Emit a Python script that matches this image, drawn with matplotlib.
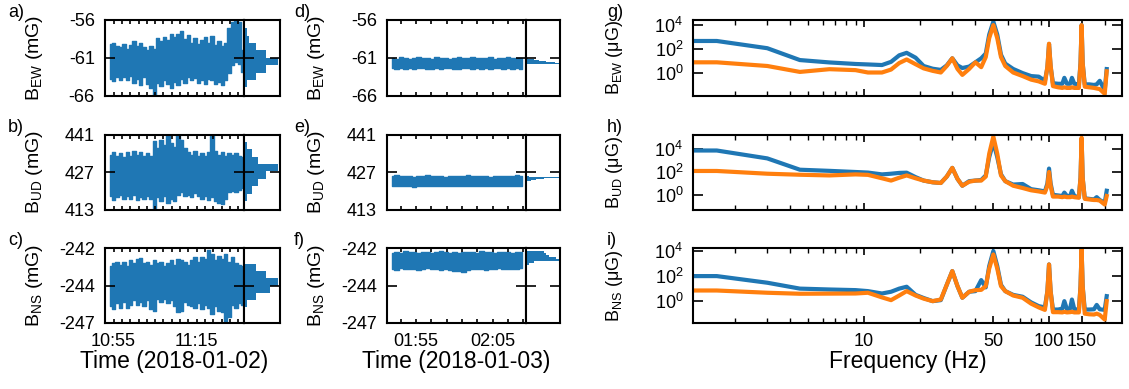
import numpy as np
import matplotlib
matplotlib.use("Agg")
import matplotlib.pyplot as plt
from matplotlib.ticker import FixedLocator, NullLocator, FixedFormatter, NullFormatter

plt.rcParams["font.family"] = ["Liberation Sans", "DejaVu Sans"]
plt.rcParams["mathtext.fontset"] = "custom"
plt.rcParams["mathtext.rm"] = "Liberation Sans"
plt.rcParams["mathtext.it"] = "Liberation Sans:italic"
plt.rcParams["mathtext.bf"] = "Liberation Sans:bold"
plt.rcParams["mathtext.sf"] = "Liberation Sans"
plt.rcParams["axes.linewidth"] = 1.5
plt.rcParams["axes.unicode_minus"] = False

BLUE = "#1f77b4"
ORANGE = "#ff7f0e"

# ---------------------------------------------------------------------------
# Time series, stored as per-interval maxima / minima (mG)
# ---------------------------------------------------------------------------
# 2018-01-02, minutes after midnight
day1_span = (654.2, 686.05)
ew1_hi = [-59.2, -59.0, -59.4, -59.6, -59.2, -59.8, -59.3, -58.8, -59.5, -59.0,
          -59.6, -60.0, -59.5, -59.8, -58.4, -58.8, -58.2, -58.6, -57.9, -58.3,
          -57.8, -57.5, -58.5, -58.0, -59.0, -58.4, -59.2, -58.6, -58.2, -59.0,
          -58.1, -59.3, -58.8, -59.5, -59.0, -57.0, -56.2, -56.1, -56.3, -60.0]
ew1_lo = [-63.8, -64.1, -63.5, -64.0, -63.6, -64.0, -63.4, -64.4, -63.8, -64.6,
          -63.6, -64.5, -65.0, -65.9, -64.3, -64.8, -64.0, -64.5, -65.0, -64.2,
          -64.6, -63.8, -64.3, -63.6, -64.0, -63.7, -64.3, -64.0, -64.5, -63.8,
          -64.0, -64.5, -64.2, -64.6, -64.0, -63.0, -62.0, -61.5, -61.8, -62.9]
ud1_hi = [433.5, 434.5, 433.0, 434.0, 432.5, 434.3, 433.0, 435.0, 433.5, 434.5,
          433.0, 434.0, 433.0, 438.5, 436.0, 439.0, 437.0, 440.5, 438.0, 436.5,
          441.0, 439.0, 436.0, 434.5, 433.5, 435.0, 433.0, 434.0, 432.8, 434.5,
          440.4, 435.0, 433.5, 434.5, 433.0, 434.0, 433.5, 434.0, 433.0, 432.5]
ud1_lo = [418.0, 416.5, 417.5, 418.5, 416.8, 418.0, 417.0, 418.5, 416.5, 417.5,
          416.8, 418.0, 417.0, 413.4, 417.5, 416.0, 418.0, 415.5, 417.0, 416.3,
          418.5, 419.5, 418.0, 418.5, 417.5, 419.0, 418.0, 417.0, 418.0, 416.5,
          417.5, 416.0, 415.5, 415.0, 417.0, 419.5, 420.0, 419.5, 420.3, 421.0]
ns1_hi = [-243.2, -243.0, -242.9, -243.1, -242.9, -243.2, -242.8, -243.0, -242.7, -242.65,
          -243.0, -242.9, -243.1, -242.8, -243.0, -242.9, -243.2, -243.0, -242.8, -243.1,
          -242.7, -242.8, -242.9, -243.1, -242.8, -242.6, -242.9, -242.6, -242.7, -242.1,
          -242.4, -242.8, -242.5, -242.7, -242.4, -242.9, -242.6, -243.0, -243.1, -243.2]
ns1_lo = [-245.9, -246.1, -245.7, -246.0, -245.6, -246.0, -245.8, -245.5, -245.8, -245.6,
          -245.9, -245.5, -246.1, -246.2, -245.4, -245.6, -245.4, -245.7, -245.5, -245.9,
          -246.3, -246.2, -245.6, -245.8, -245.9, -246.0, -245.7, -246.1, -245.8, -246.0,
          -246.4, -245.9, -246.2, -246.3, -246.9, -246.6, -245.8, -246.0, -245.7, -245.8]

# 2018-01-03, minutes after midnight
day2_span = (111.85, 128.78)
ew2_hi = [-61.0, -61.1, -60.95, -61.05, -61.1, -61.0, -60.9, -61.05, -61.0, -61.1,
          -60.95, -61.0, -61.05, -61.1, -61.0, -60.95, -61.0, -61.05, -60.9, -61.0,
          -61.05, -61.0, -60.95, -61.1, -61.0, -61.05, -60.95, -61.0, -61.05, -61.0]
ew2_lo = [-62.4, -62.5, -62.35, -62.45, -62.4, -62.5, -62.4, -62.35, -62.45, -62.5,
          -62.4, -62.45, -62.35, -62.4, -62.5, -62.45, -62.4, -62.35, -62.45, -62.4,
          -62.5, -62.4, -62.45, -62.35, -62.4, -62.45, -62.4, -62.5, -62.4, -62.45]
ud2_hi = [425.5, 425.7, 425.4, 425.6, 425.5, 425.3, 425.6, 425.5, 425.7, 425.4,
          425.5, 425.6, 425.3, 425.5, 425.6, 425.4, 425.5, 425.7, 425.5, 425.4,
          425.6, 425.5, 425.3, 425.6, 425.5, 425.4, 425.6, 425.5, 425.7, 425.5]
ud2_lo = [421.8, 421.6, 421.9, 421.7, 421.8, 421.5, 421.8, 421.9, 421.7, 421.6,
          421.8, 421.7, 421.9, 421.6, 421.8, 421.7, 421.9, 421.8, 421.6, 421.8,
          421.7, 421.9, 421.8, 421.6, 421.8, 421.7, 421.8, 421.9, 421.7, 421.8]
ns2_hi = [-242.3, -242.25, -242.3, -242.2, -242.28, -242.25, -242.3, -242.22, -242.27, -242.3,
          -242.25, -242.2, -242.28, -242.3, -242.25, -242.3, -242.22, -242.28, -242.25, -242.3,
          -242.2, -242.27, -242.25, -242.3, -242.22, -242.28, -242.25, -242.3, -242.25, -242.28]
ns2_lo = [-243.4, -243.45, -243.35, -243.42, -243.4, -243.38, -243.45, -243.4, -243.35, -243.42,
          -243.4, -243.45, -243.4, -243.48, -243.55, -243.5, -243.56, -243.45, -243.4, -243.42,
          -243.38, -243.45, -243.4, -243.42, -243.35, -243.4, -243.42, -243.38, -243.4, -243.35]

# ---------------------------------------------------------------------------
# Histograms of the field values (bin edges in mG, relative counts)
# ---------------------------------------------------------------------------
ew1_edges = [-65.9, -64.92, -63.94, -62.96, -61.98, -61.0, -60.02, -59.04, -58.06, -57.08, -56.1]
ew1_counts = [3, 8, 33, 63, 98, 63, 33, 13, 8, 3]
ud1_edges = [413.4, 416.16, 418.92, 421.68, 424.44, 427.2, 429.96, 432.72, 435.48, 438.24, 441.0]
ud1_counts = [1, 8, 23, 40, 63, 96, 41, 23, 8, 1]
ns1_edges = [-246.9, -246.42, -245.94, -245.46, -244.98, -244.5, -244.02, -243.54, -243.06, -242.58, -242.1]
ns1_counts = [0.5, 1, 8, 33, 75, 98, 63, 33, 3, 0.5]

ew2_edges = [-61.78, -61.67, -61.56, -61.45, -61.34, -61.23, -61.12, -61.01, -60.9]
ew2_counts = [100, 85, 60, 40, 25, 15, 8, 3]
ud2_edges = [423.2, 423.5, 423.8, 424.1, 424.4, 424.7, 425.0, 425.3, 425.6]
ud2_counts = [3, 8, 15, 30, 55, 100, 40, 10]
ns2_edges = [-243.26, -243.13, -242.99, -242.86, -242.73, -242.6, -242.47, -242.33, -242.2]
ns2_counts = [4, 10, 25, 100, 90, 68, 60, 55]

# ---------------------------------------------------------------------------
# Amplitude spectra, log10 of amplitude in uG (blue: 2018-01-02, orange: 2018-01-03)
# ---------------------------------------------------------------------------
freq = [1.19, 1.6, 3.0, 4.5, 6.5, 9.0, 10.5, 12.5, 14.0, 15.5,
        17.0, 19.0, 21.0, 23.5, 26.0, 28.0, 30.0, 32.0, 34.0, 37.0,
        40.0, 43.0, 45.5, 47.5, 50.0, 52.5, 55.0, 58.0, 64.0, 72.0,
        80.0, 88.0, 95.0, 98.0, 100.0, 102.0, 105.0, 112.0, 118.0, 121.0,
        125.0, 130.0, 133.0, 137.0, 145.0, 148.0, 150.0, 152.0, 156.0, 165.0,
        175.0, 181.0, 188.0, 200.0, 205.0]
ew_blue = [2.66, 2.66, 2.05, 1.05, 0.85, 0.72, 0.68, 0.63, 0.9, 1.45,
           1.66, 1.25, 0.55, 0.32, 0.22, 0.6, 1.2, 0.6, 0.38, 0.5,
           0.86, 1.2, 1.6, 3.2, 4.29, 3.2, 1.5, 0.75, 0.3, -0.05,
           -0.3, -0.35, -0.7, 0.4, 2.4, 0.5, -0.9, -0.95, -0.95, -0.45,
           -0.95, -0.95, -0.45, -0.95, -1.0, 0.8, 4.0, 0.8, -1.0, -1.0,
           -1.05, -1.0, -0.7, -1.5, 0.29]
ew_orange = [0.86, 0.86, 0.55, 0.05, 0.28, 0.2, 0.0, 0.0, 0.25, 0.8,
             1.1, 0.7, 0.35, 0.14, 0.0, 0.55, 1.2, 0.3, -0.2, 0.3,
             0.86, 0.45, 1.3, 2.9, 4.0, 2.9, 1.3, 0.55, 0.0, -0.3,
             -0.6, -0.75, -0.95, 0.5, 2.43, 0.6, -1.15, -1.25, -1.3, -1.25,
             -1.3, -1.3, -1.25, -1.3, -1.3, 0.8, 4.0, 0.8, -1.2, -1.25,
             -1.3, -1.35, -1.4, -1.8, 0.1]
ud_blue = [3.88, 3.88, 3.19, 2.2, 2.1, 2.0, 1.95, 1.79, 1.85, 1.92,
           1.94, 1.55, 1.25, 1.1, 1.04, 1.6, 2.36, 1.4, 0.8, 1.2,
           1.25, 1.3, 1.7, 3.3, 4.6, 3.3, 1.8, 1.2, 0.9, 0.95,
           0.5, 0.4, 0.3, 1.0, 2.3, 1.0, 0.0, -0.05, -0.1, 0.2,
           -0.1, -0.1, 0.36, -0.1, -0.2, 1.5, 4.9, 1.5, -0.3, -0.35,
           -0.4, -0.2, -0.45, -0.7, 0.36]
ud_orange = [2.09, 2.09, 1.85, 1.76, 1.7, 1.79, 1.75, 1.45, 1.25, 1.5,
             1.7, 1.45, 1.25, 1.1, 1.04, 1.6, 2.36, 1.4, 0.8, 1.15,
             1.25, 1.25, 1.6, 3.6, 5.1, 3.6, 1.7, 1.2, 0.8, 0.6,
             0.4, 0.3, 0.2, 0.8, 2.0, 0.8, -0.15, -0.15, -0.2, -0.15,
             -0.2, -0.2, -0.15, -0.2, -0.25, 1.5, 5.0, 1.5, -0.35, -0.4,
             -0.45, -0.45, -0.5, -0.85, -0.1]
ns_blue = [2.0, 2.0, 1.47, 1.0, 0.93, 0.88, 0.8, 0.61, 0.75, 1.0,
           1.15, 0.5, 0.25, 0.0, 0.08, 1.3, 2.4, 1.2, 0.27, 0.75,
           0.8, 1.68, 1.1, 2.8, 4.0, 2.8, 1.3, 0.8, 0.5, 0.35,
           -0.1, -0.4, -0.5, 0.8, 2.93, 0.8, -0.67, -0.67, -0.6, 0.0,
           -0.65, -0.6, 0.13, -0.65, -0.67, 1.2, 4.13, 1.2, -0.67, -0.67,
           -0.65, -0.3, -0.65, -0.7, 0.4]
ns_orange = [0.85, 0.85, 0.67, 0.59, 0.6, 0.61, 0.67, 0.3, 0.08, 0.45,
             0.8, 0.45, 0.2, 0.0, 0.13, 1.3, 2.4, 1.2, 0.27, 0.75,
             0.88, 0.9, 1.2, 2.6, 3.73, 2.6, 1.2, 0.8, 0.45, 0.27,
             -0.2, -0.5, -0.7, 0.8, 2.93, 0.8, -0.88, -0.88, -0.9, -0.85,
             -0.9, -0.88, -0.85, -0.9, -0.9, 1.2, 4.13, 1.2, -1.0, -1.05,
             -1.07, -1.0, -1.1, -1.47, 0.0]

# axis settings
channels = ["EW", "UD", "NS"]
field_ylims = [(-66, -56), (413, 441), (-247, -242)]
field_ticks = [[-66, -61, -56], [413, 427, 441], [-247, -244.5, -242]]
spec_ylims = [(10 ** -1.94, 10 ** 4.43), (10 ** -1.28, 10 ** 5.28), (10 ** -1.73, 10 ** 4.22)]

day1_xlim = (652.82, 686.37)
day1_ticks = list(range(655, 686, 2))
day1_labels = {655: "10:55", 675: "11:15"}
day2_xlim = (111.17, 129.32)
day2_ticks = list(range(113, 130, 2))
day2_labels = {115: "01:55", 125: "02:05"}

# ---------------------------------------------------------------------------
W, H = 1129, 389
fig = plt.figure(figsize=(W / 100, H / 100), dpi=100)


def add_px_axes(x0, y0, x1, y1):
    return fig.add_axes([x0 / W, 1 - y1 / H, (x1 - x0) / W, (y1 - y0) / H])


rows = [(20.0, 95.5), (134.5, 209.5), (248.3, 322.8)]
TICK_FS = 13


def draw_band(ax, span, hi, lo):
    """Draw a field record from its per-interval maxima and minima."""
    t = np.linspace(span[0], span[1], len(hi))
    ax.fill_between(t, lo, hi, step="mid", color=BLUE, lw=1.0, edgecolor=BLUE)


def style_time_axes(ax, i, xlim, ticks, labels, xlabel):
    ax.set_xlim(*xlim)
    ax.set_ylim(*field_ylims[i])
    ax.xaxis.set_major_locator(FixedLocator(ticks))
    ax.xaxis.set_major_formatter(FixedFormatter([labels.get(t, "") for t in ticks]))
    ax.yaxis.set_major_locator(FixedLocator(field_ticks[i]))
    ax.yaxis.set_major_formatter(FixedFormatter([f"{v:.0f}" for v in field_ticks[i]]))
    ax.tick_params(axis="x", direction="in", top=True, bottom=True, length=3,
                   width=1.2, labelsize=TICK_FS, pad=7, labelbottom=(i == 2))
    ax.tick_params(axis="y", direction="in", left=True, right=True, length=7,
                   width=1.2, labelsize=TICK_FS, pad=7)
    if i == 2:
        ax.set_xlabel(xlabel, fontsize=16.5)
        ax.xaxis.set_label_coords(0.5, -0.36)


def style_hist_axes(ax, i):
    ax.set_ylim(*field_ylims[i])
    ax.set_xlim(0, 101)
    ax.xaxis.set_major_locator(NullLocator())
    ax.yaxis.set_major_locator(FixedLocator(field_ticks[i]))
    ax.yaxis.set_major_formatter(NullFormatter())
    ax.tick_params(axis="y", direction="in", left=True, right=True, length=7, width=1.2)


day1_series = [(ew1_hi, ew1_lo), (ud1_hi, ud1_lo), (ns1_hi, ns1_lo)]
day2_series = [(ew2_hi, ew2_lo), (ud2_hi, ud2_lo), (ns2_hi, ns2_lo)]
day1_hists = [(ew1_edges, ew1_counts), (ud1_edges, ud1_counts), (ns1_edges, ns1_counts)]
day2_hists = [(ew2_edges, ew2_counts), (ud2_edges, ud2_counts), (ns2_edges, ns2_counts)]
spectra = [(ew_blue, ew_orange), (ud_blue, ud_orange), (ns_blue, ns_orange)]

letters = [["a)", "d)", "g)"], ["b)", "e)", "h)"], ["c)", "f)", "i)"]]
letter_x = [8, 294, 607]

for i, (top, bot) in enumerate(rows):
    ch = channels[i]
    ylab_mg = r"$\mathrm{B}_{\mathrm{" + ch + r"}}$ (mG)"
    ylab_ug = r"$\mathrm{B}_{\mathrm{" + ch + r"}}$ (μG)"

    # day 1 time series + histogram
    ax = add_px_axes(104.5, top, 244.0, bot)
    draw_band(ax, day1_span, *day1_series[i])
    style_time_axes(ax, i, day1_xlim, day1_ticks, day1_labels, "Time (2018-01-02)")
    ax.set_ylabel(ylab_mg, fontsize=14)
    ax.yaxis.set_label_coords(-0.423, 0.5)

    hx = add_px_axes(244.0, top, 279.5, bot)
    e, c = day1_hists[i]
    hx.stairs(c, e, orientation="horizontal", fill=True, color=BLUE, lw=0)
    style_hist_axes(hx, i)

    # day 2 time series + histogram
    ax = add_px_axes(386.7, top, 525.7, bot)
    draw_band(ax, day2_span, *day2_series[i])
    style_time_axes(ax, i, day2_xlim, day2_ticks, day2_labels, "Time (2018-01-03)")
    ax.set_ylabel(ylab_mg, fontsize=14)
    ax.yaxis.set_label_coords(-0.43, 0.5)

    hx = add_px_axes(525.7, top, 560.0, bot)
    e, c = day2_hists[i]
    hx.stairs(c, e, orientation="horizontal", fill=True, color=BLUE, lw=0)
    style_hist_axes(hx, i)

    # spectra
    ax = add_px_axes(693.0, top, 1122.0, bot)
    b, o = spectra[i]
    ax.plot(freq, 10 ** np.asarray(b), color=BLUE, lw=3.0)
    ax.plot(freq, 10 ** np.asarray(o), color=ORANGE, lw=3.0)
    ax.set_xscale("log")
    ax.set_yscale("log")
    ax.set_xlim(1.19, 248)
    ax.set_ylim(*spec_ylims[i])
    ax.xaxis.set_major_locator(FixedLocator([10, 50, 100, 150]))
    ax.xaxis.set_major_formatter(FixedFormatter(["10", "50", "100", "150"]))
    ax.xaxis.set_minor_locator(FixedLocator([2, 3, 4, 5, 6, 7, 8, 9, 20, 30, 40, 60, 70, 80, 90, 200]))
    ax.xaxis.set_minor_formatter(NullFormatter())
    ax.yaxis.set_major_locator(FixedLocator([1, 1e2, 1e4]))
    ax.yaxis.set_minor_locator(NullLocator())
    ax.tick_params(axis="x", which="major", direction="in", top=True, bottom=True,
                   length=5, width=1.2, labelsize=TICK_FS, pad=7, labelbottom=(i == 2))
    ax.tick_params(axis="x", which="minor", direction="in", top=True, bottom=True,
                   length=3.5, width=1.0)
    ax.tick_params(axis="y", direction="in", left=True, right=True, length=7,
                   width=1.2, labelsize=TICK_FS, pad=7)
    ax.set_ylabel(ylab_ug, fontsize=13)
    ax.yaxis.set_label_coords(-0.1585, 0.5)
    if i == 2:
        ax.set_xlabel("Frequency (Hz)", fontsize=16.5)
        ax.xaxis.set_label_coords(0.5, -0.36)

    for j in range(3):
        fig.text(letter_x[j] / W, 1 - (top - 16) / H, letters[i][j],
                 ha="left", va="top", fontsize=13)

fig.savefig("out.png", dpi=100)
